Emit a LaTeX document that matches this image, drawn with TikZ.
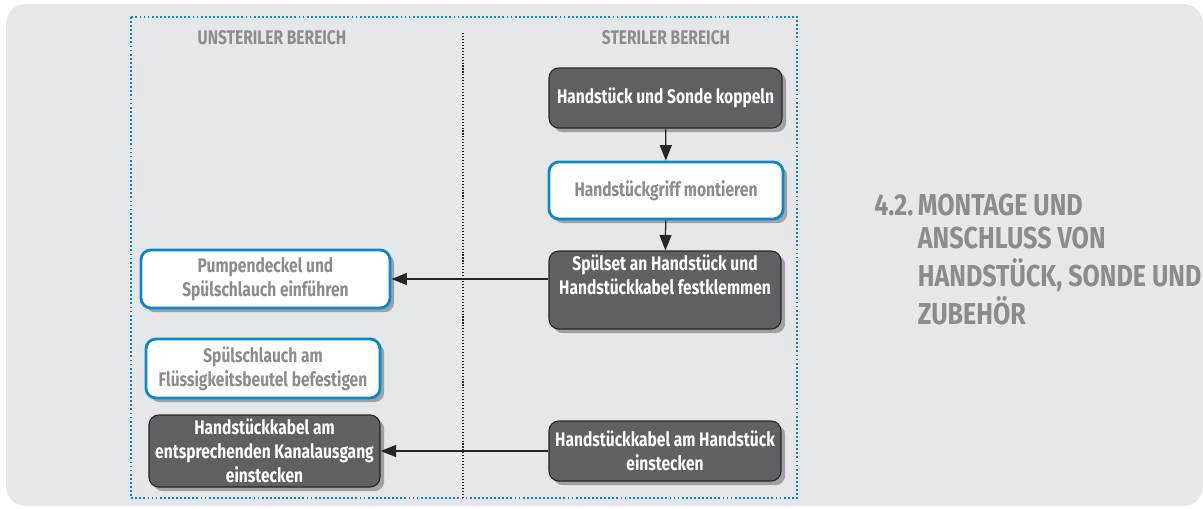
\documentclass[tikz,border=0pt]{standalone}
\usepackage{fontspec}
\setmainfont{Fira Sans}[FakeStretch=0.79]
\usepackage{graphicx}
\usepackage{tikz}
\usetikzlibrary{arrows.meta,positioning,shadows}
\definecolor{panel}{HTML}{E6E7E8}
\definecolor{stepgray}{HTML}{5F6062}
\definecolor{frameblue}{HTML}{0A88CE}
\definecolor{txtgray}{HTML}{8B8C8E}
\newcommand{\px}{0.025cm}
\newcommand{\fs}{\fontsize{14}{17}\selectfont}
\tikzset{
  box/.style={rounded corners=7pt, align=center, font=\bfseries\fs, inner sep=2pt,
              drop shadow={shadow xshift=3pt, shadow yshift=-3pt, opacity=.3, fill=black}},
  dbox/.style={box, fill=stepgray, draw=black!85, line width=.8pt, text=white},
  wbox/.style={box, fill=white, draw=frameblue, line width=2pt, text=txtgray},
  flow/.style={-{Triangle[length=11pt, width=8.5pt]}, line width=.9pt, draw=black!85},
  hdr/.style={font=\bfseries\fs, text=txtgray},
  ttl/.style={font=\bfseries\fontsize{21.5}{24}\selectfont, text=txtgray, inner sep=0pt}
}

\begin{document}
\begin{tikzpicture}[x=\px, y=-\px]
\useasboundingbox (0,0) rectangle (1203,508);
\fill[panel, rounded corners=14pt] (6,4) rectangle (1203,506);
% Bereiche
\draw[frameblue, line width=1.3pt, dash pattern=on 1.3pt off 1.6pt] (131,17) rectangle (797,498);
\draw[black!85, line width=.8pt, dash pattern=on .8pt off 1.3pt] (463,33) -- (463,498);
\node[hdr] (hu) at (272,38) {UNSTERILER BEREICH};
\node[hdr] (hs) at (666,38) {STERILER BEREICH};
% steriler Bereich
\node[dbox, minimum width=233*\px, minimum height=60*\px] (koppeln) at (665.5,98) {Handstück und Sonde koppeln};
\node[wbox, minimum width=234*\px, minimum height=57*\px] (griff) at (666,190.5) {Handstückgriff montieren};
\node[dbox, minimum width=232*\px, minimum height=78*\px] (klemmen) at (665,290) {Spülset an Handstück und\\Handstückkabel festklemmen\\\strut};
\node[dbox, minimum width=232*\px, minimum height=60*\px] (einst) at (665,451) {Handstückkabel am Handstück\\einstecken};
% unsteriler Bereich
\node[wbox, minimum width=249*\px, minimum height=58*\px] (pumpe) at (265.5,279) {Pumpendeckel und\\Spülschlauch einführen};
\node[wbox, minimum width=234*\px, minimum height=59*\px] (beutel) at (263,368.5) {Spülschlauch am\\Flüssigkeitsbeutel befestigen};
\node[dbox, minimum width=231*\px, minimum height=72*\px] (kanal) at (264.5,451) {Handstückkabel am\\entsprechenden Kanalausgang\\einstecken};
\draw[flow] (koppeln) -- (griff);
\draw[flow] (griff) -- (klemmen);
\draw[flow] (pumpe.east -| klemmen.west) -- (pumpe.east);
\draw[flow] (einst.west) -- (kanal.east);
% Titel
\node[ttl, anchor=base west] (titel) at (874,215) {\scalebox{1.05}[1]{\begin{tabular}[t]{@{}l@{\hspace{3pt}}l@{}}
4.2. & MONTAGE UND\\ & ANSCHLUSS VON\\ & HANDSTÜCK, SONDE UND\\ & ZUBEHÖR\end{tabular}}};
\end{tikzpicture}
\end{document}
